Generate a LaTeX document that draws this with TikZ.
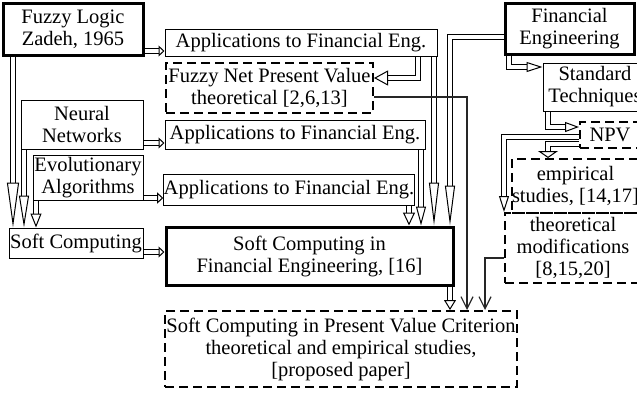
\documentclass[tikz,border=0pt]{standalone}
\usepackage{fontspec}
\setmainfont{Liberation Serif}
\usetikzlibrary{arrows.meta}
\tikzset{
  box/.style={draw, line width=1pt, inner sep=0pt, align=center, anchor=center},
  thickbox/.style={box, line width=3pt},
  dashbox/.style={box, line width=2pt, dash pattern=on 9pt off 5pt},
  darr/.style 2 args={draw, line width=1pt, double, double distance=3.5pt,
    -{Triangle[open, length=#1pt, width=#2pt, line width=1pt]}},
  sline/.style={draw=black!85, line width=1.2pt, -{Straight Barb[length=12pt, width=12pt, line width=1.2pt]}}
}
\begin{document}
\begin{tikzpicture}[x=1pt,y=-1pt, font=\fontsize{20.5}{22}\selectfont]
\useasboundingbox (0,0) rectangle (637,397);
\clip (0,0) rectangle (637,397);
% nodes
\node[thickbox, minimum width=140pt, minimum height=52pt] (fl) at (73,29) {Fuzzy Logic\\Zadeh, 1965};
\node[box, minimum width=272pt, minimum height=27pt] (app1) at (301,42.5) {Applications to Financial Eng.};
\node[dashbox, minimum width=207pt, minimum height=50pt] (fnpv) at (269.5,88) {Fuzzy Net Present Value\\theoretical [2,6,13]};
\node[box, minimum width=122pt, minimum height=49pt] (nn) at (82,124.5) {Neural\\Networks};
\node[box, minimum width=260pt, minimum height=29pt] (app2) at (295,134.5) {Applications to Financial Eng.};
\node[box, minimum width=110pt, minimum height=45pt] (ea) at (88,177.5) {Evolutionary\\Algorithms};
\node[box, minimum width=248pt, minimum height=31pt] (app3) at (289,189.5) {Applications to Financial Eng.};
\node[box, minimum width=134pt, minimum height=30pt] (sc) at (76,243) {Soft Computing};
\node[thickbox, minimum width=287pt, minimum height=58pt] (scfe) at (309.5,256) {Soft Computing in\\Financial Engineering, [16]};
\node[dashbox, minimum width=352pt, minimum height=76pt] (scpv) at (341,349) {Soft Computing in Present Value Criterion\\theoretical and empirical studies,\\{}[proposed paper]};
\node[thickbox, minimum width=129pt, minimum height=51pt] (fe) at (569.5,28.5) {Financial\\Engineering};
\node[box, minimum width=104pt, minimum height=48pt] (st) at (595,87) {Standard\\Techniques};
\node[dashbox, minimum width=60pt, minimum height=26pt] (npv) at (610,135) {NPV};
\node[dashbox, minimum width=125pt, minimum height=54pt] (emp) at (575.5,186) {empirical\\studies, [14,17]};
\node[dashbox, minimum width=136pt, minimum height=70pt] (tm) at (573,248) {theoretical\\modifications\\{}[8,15,20]};
% double arrows
\draw[darr={6}{11}] (fl.east |- 0,51) -- (app1.west |- 0,51);
\draw[darr={45}{12}] (fl.south -| 13,0) -- (sc.north -| 13,0);
\draw[darr={32}{10}] (nn.south -| 24,0) -- (sc.north -| 24,0);
\draw[darr={14}{11}] (ea.south -| 36,0) -- (sc.north -| 36,0);
\draw[darr={6}{11}] (nn.east |- 0,143) -- (app2.west |- 0,143);
\draw[darr={6}{11}] (ea.east |- 0,198) -- (app3.west |- 0,198);
\draw[darr={6}{11}] (sc.east |- 0,252) -- (scfe.west |- 0,252);
\draw[darr={14}{15}] (app1.south -| 418,0) |- (fnpv.east |- 0,78);
\draw[darr={43}{10}] (app1.south -| 434,0) -- (scfe.north -| 434,0);
\draw[darr={19}{10}] (app2.south -| 421,0) -- (scfe.north -| 421,0);
\draw[darr={13}{12}] (app3.south -| 409,0) -- (scfe.north -| 409,0);
\draw[darr={40}{10}] (fe.west |- 0,37) -| (scfe.north -| 450,0);
\draw[darr={16}{10}] (fe.south -| 509,0) |- (st.west |- 0,67);
\draw[darr={14}{10}] (st.south -| 548,0) |- (npv.west |- 0,127);
\draw[darr={16}{10}] (npv.west |- 0,137) -| (tm.north west);
\draw[darr={7}{20}] (npv.west |- 0,144) -| (emp.north -| 548,0);
\draw[darr={10}{12}] (scfe.south -| 450,0) -- (scpv.north -| 450,0);
% single lines
\draw[sline] (fnpv.east |- 0,97) -| (scpv.north -| 467,0);
\draw[sline] (tm.west |- 0,258) -| (scpv.north -| 485,0);
\end{tikzpicture}
\end{document}
